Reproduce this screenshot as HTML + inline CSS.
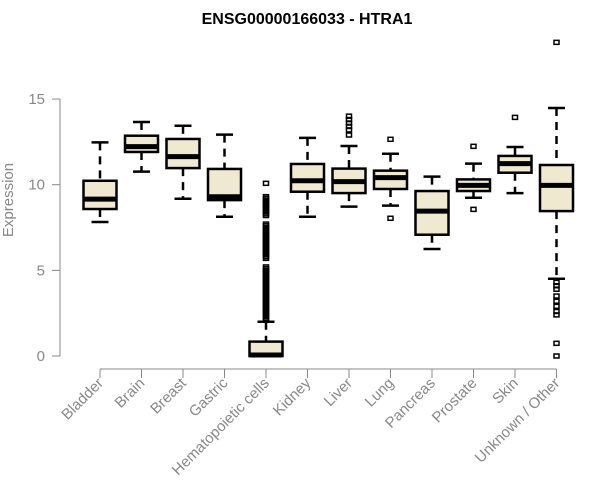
<!DOCTYPE html>
<html><head><meta charset="utf-8"><style>
body{margin:0;background:#fff}
svg{display:block;font-family:"Liberation Sans",Arial,sans-serif}
</style></head><body>
<svg id="chart" width="600" height="500" viewBox="0 0 600 500" xmlns="http://www.w3.org/2000/svg">
<text x="307" y="24" text-anchor="middle" font-size="16" font-weight="bold">ENSG00000166033 - HTRA1</text>
<text transform="translate(13,200) rotate(-90)" text-anchor="middle" font-size="15" fill="#888">Expression</text>
<g id="axes"></g><g id="boxes"></g>
</svg>
<script>
const categories=["Bladder","Brain","Breast","Gastric","Hematopoietic cells","Kidney","Liver","Lung","Pancreas","Prostate","Skin","Unknown / Other"];
const whiskerLow=[7.82,10.76,9.18,8.13,0,8.13,8.72,8.78,6.25,9.24,9.51,4.51];
const q1=[8.58,11.91,10.97,9.1,0,9.59,9.51,9.75,7.08,9.63,10.7,8.46];
const median=[9.16,12.22,11.64,9.3,0.06,10.23,10.18,10.41,8.46,9.96,11.23,9.96];
const q3=[10.23,12.86,12.67,10.92,0.84,11.21,10.94,10.82,9.63,10.31,11.68,11.15];
const whiskerHigh=[12.47,13.66,13.44,12.92,2.0,12.73,12.26,11.81,10.47,11.23,12.2,14.48];
const outliers=[[],[],[],[],
[10.08,9.3,9.2,9.1,9.0,8.9,8.8,8.7,8.6,8.5,8.4,8.3,8.2,7.7,7.6,7.5,7.4,7.3,7.2,7.1,7.0,6.9,6.8,6.7,6.6,6.5,6.4,6.3,6.2,6.1,6.0,5.9,5.8,5.7,5.2,5.1,5.0,4.9,4.8,4.7,4.6,4.5,4.4,4.3,4.2,4.1,4.0,3.9,3.8,3.7,3.6,3.5,3.4,3.3,3.2,3.1,3.0,2.9,2.8,2.7,2.6,2.5,2.4,2.3,2.2,2.1],
[],[14.0,13.8,13.6,13.4,13.2,12.9],[12.65,8.04],[],[12.24,8.56],[13.93],
[18.31,4.3,4.1,3.9,3.5,3.2,2.9,2.6,2.4,0.74,0.0]];
const yTicks=[0,5,10,15];
const NS="http://www.w3.org/2000/svg";
const y=v=>356-v*17.13;
const x=i=>100+i*41.5;
function mk(parent,tag,attrs){const e=document.createElementNS(NS,tag);for(const k in attrs)e.setAttribute(k,attrs[k]);parent.appendChild(e);return e;}
const axes=document.getElementById('axes'),boxes=document.getElementById('boxes');
let e=mk(axes,'line',{x1:60,x2:60,y1:y(15),y2:y(0),stroke:'#888'});


yTicks.forEach(t=>{
 let l=mk(axes,'line',{x1:52,x2:60,y1:y(t),y2:y(t),stroke:'#888'});
 
 
 let tx=mk(axes,'text',{x:45,y:y(t)+5,'text-anchor':'end','font-size':15,fill:'#888'});tx.textContent=t;
 
 
});
e=mk(axes,'line',{x1:x(0),x2:x(categories.length-1),y1:369,y2:369,stroke:'#888'});


categories.forEach((c,i)=>{
 let l=mk(axes,'line',{x1:x(i),x2:x(i),y1:369,y2:378,stroke:'#888'});
 
 
 let tx=mk(axes,'text',{transform:`translate(${x(i)+4},${384}) rotate(-45)`,'text-anchor':'end','font-size':15,fill:'#888'});tx.textContent=c;
 
 
 const g=mk(boxes,'g',{});
 
 
 const cx=x(i),hw=16.5,cw=8.5;
 mk(g,'line',{x1:cx,x2:cx,y1:y(whiskerHigh[i]),y2:y(q3[i]),stroke:'#000','stroke-width':2.5,'stroke-dasharray':'8,6'});
 mk(g,'line',{x1:cx,x2:cx,y1:y(q1[i]),y2:y(whiskerLow[i]),stroke:'#000','stroke-width':2.5,'stroke-dasharray':'8,6'});
 mk(g,'line',{x1:cx-cw,x2:cx+cw,y1:y(whiskerHigh[i]),y2:y(whiskerHigh[i]),stroke:'#000','stroke-width':2.5});
 mk(g,'line',{x1:cx-cw,x2:cx+cw,y1:y(whiskerLow[i]),y2:y(whiskerLow[i]),stroke:'#000','stroke-width':2.5});
 mk(g,'rect',{x:cx-hw,y:y(q3[i]),width:hw*2,height:Math.max(0.5,y(q1[i])-y(q3[i])),fill:'#efe9cf',stroke:'#000','stroke-width':2.5});
 mk(g,'line',{x1:cx-hw,x2:cx+hw,y1:y(median[i]),y2:y(median[i]),stroke:'#000','stroke-width':5});
 outliers[i].forEach(v=>{mk(g,'rect',{x:cx-2.5,y:y(v)-2,width:5,height:4,fill:'none',stroke:'#000','stroke-width':1.5});});
});
</script>
</body></html>
